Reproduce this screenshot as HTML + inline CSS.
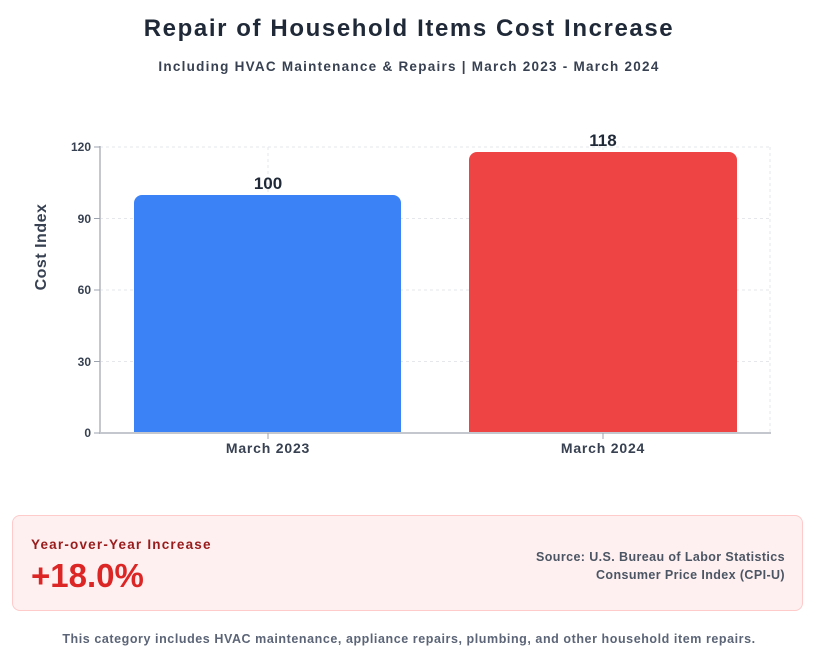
<!DOCTYPE html>
<html><head><style>
body{margin:0;width:818px;height:656px;background:#fff;font-family:"Liberation Sans",sans-serif;position:relative;overflow:hidden}
.t{position:absolute;left:0;width:818px;text-align:center;font-weight:bold}
</style></head><body>
<div class="t" style="top:15px;font-size:24px;letter-spacing:1.6px;color:#1f2937">Repair of Household Items Cost Increase</div>
<div class="t" style="top:59px;font-size:13.5px;letter-spacing:1.25px;color:#374151">Including HVAC Maintenance &amp; Repairs | March 2023 - March 2024</div>
<svg width="818" height="480" style="position:absolute;left:0;top:0" font-family="Liberation Sans, sans-serif" font-weight="bold">
<g stroke="#e5e7eb" stroke-dasharray="3,3">
<line x1="100" x2="770" y1="147" y2="147"/><line x1="100" x2="770" y1="218.5" y2="218.5"/><line x1="100" x2="770" y1="290" y2="290"/><line x1="100" x2="770" y1="361.5" y2="361.5"/>
<line x1="268" x2="268" y1="147" y2="433"/><line x1="603" x2="603" y1="147" y2="433"/><line x1="770" x2="770" y1="147" y2="433"/>
</g>
<path d="M134 433V203a8 8 0 0 1 8-8H393a8 8 0 0 1 8 8V433Z" fill="#3b82f6"/>
<path d="M469 433V160a8 8 0 0 1 8-8H729a8 8 0 0 1 8 8V433Z" fill="#ef4444"/>
<g stroke="#c4c7cd" stroke-width="2"><line x1="100" y1="146" x2="100" y2="434"/><line x1="99" y1="433" x2="771" y2="433"/></g>
<g stroke="#9ca3af"><line x1="94" x2="100" y1="147" y2="147"/><line x1="94" x2="100" y1="218.5" y2="218.5"/><line x1="94" x2="100" y1="290" y2="290"/><line x1="94" x2="100" y1="361.5" y2="361.5"/><line x1="94" x2="100" y1="433" y2="433"/><line x1="268" x2="268" y1="433" y2="439"/><line x1="603" x2="603" y1="433" y2="439"/></g>
<g font-size="12" fill="#374151" text-anchor="end"><text x="91" y="151">120</text><text x="91" y="223">90</text><text x="91" y="294">60</text><text x="91" y="366">30</text><text x="91" y="437">0</text></g>
<g font-size="14" fill="#374151" text-anchor="middle" letter-spacing="0.8"><text x="268" y="453">March 2023</text><text x="603" y="453">March 2024</text></g>
<g font-size="17" fill="#1f2937" text-anchor="middle"><text x="268" y="189">100</text><text x="603" y="146">118</text></g>
<text transform="translate(46 247) rotate(-90)" font-size="16" letter-spacing="0.5" fill="#374151" text-anchor="middle">Cost Index</text>
</svg>
<div style="position:absolute;left:12px;top:515px;width:791px;height:96px;background:#fef0f0;border:1px solid #fecaca;border-radius:8px;box-sizing:border-box"></div>
<div style="position:absolute;left:31px;top:537px;font-size:13.5px;letter-spacing:1.2px;font-weight:bold;color:#991b1b">Year-over-Year Increase</div>
<div style="position:absolute;left:31px;top:557px;font-size:33px;font-weight:bold;color:#dc2626">+18.0%</div>
<div style="position:absolute;right:33px;top:548px;font-size:12.5px;letter-spacing:0.4px;font-weight:bold;color:#4b5563;text-align:right;line-height:18px">Source: U.S. Bureau of Labor Statistics<br>Consumer Price Index (CPI-U)</div>
<div class="t" style="top:632px;font-size:12.5px;letter-spacing:0.57px;color:#5b6577">This category includes HVAC maintenance, appliance repairs, plumbing, and other household item repairs.</div>
</body></html>
